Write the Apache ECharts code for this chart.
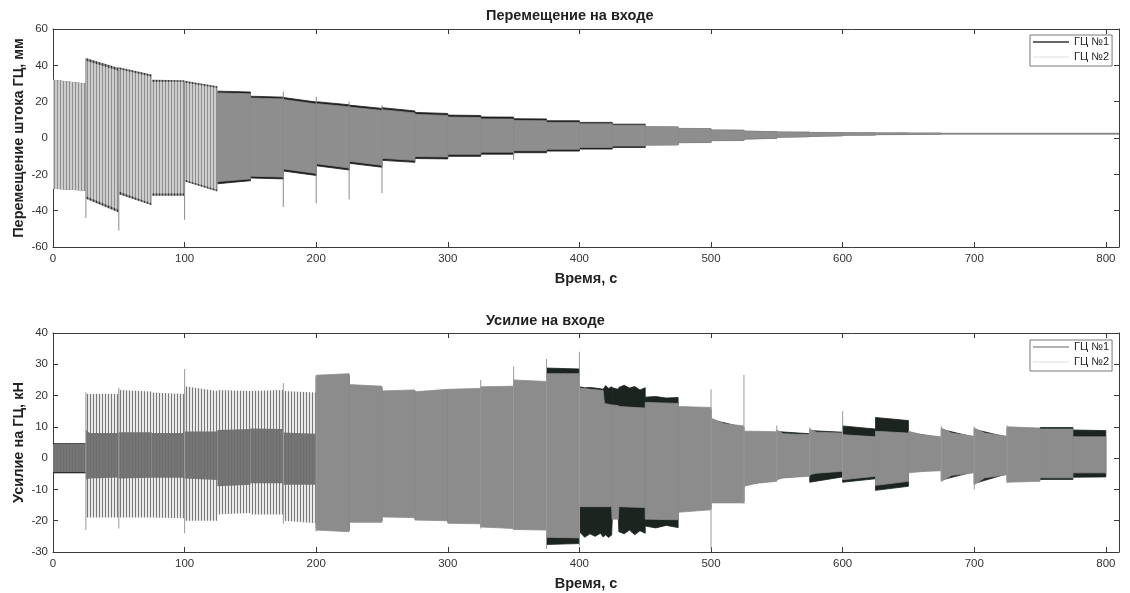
<!DOCTYPE html>
<html>
<head>
<meta charset="utf-8">
<title>Перемещение и усилие на входе</title>
<script src="https://cdn.jsdelivr.net/npm/echarts@6/dist/echarts.min.js"></script>
<style>
  html, body { margin: 0; padding: 0; background: #fff; }
  #chart { width: 1130px; height: 593px; }
</style>
</head>
<body>
<div id="chart"></div>
<script>
// Envelope of each recorded signal, one entry per 25 s loading step.
// Each step is a list of [time s, upper value, lower value].

// Displacement of the cylinder rod, mm
const dispGC1 = [
  [[0, 32, -28], [25, 30, -29]],
  [[25, 44, -33.5], [50, 38.5, -41]],
  [[50, 39, -31], [75, 35, -37]],
  [[75, 32, -31.8], [100, 31.8, -31.8]],
  [[100, 31.5, -24], [125, 28.5, -29.5]],
  [[125, 25.8, -25.2], [150, 25.3, -23.5]],
  [[150, 23, -22], [175, 22.5, -22.5]],
  [[175, 22.3, -18.2], [200, 19.8, -20.6]],
  [[200, 20, -15.3], [225, 18.3, -17.6]],
  [[225, 18.1, -13.9], [250, 16.3, -16.1]],
  [[250, 16.7, -12.3], [275, 14.9, -13.4]],
  [[275, 14.1, -11.3], [300, 13.5, -11.5]],
  [[300, 12.6, -10.1], [325, 12.4, -10.1]],
  [[325, 11.6, -8.9], [350, 11.5, -8.9]],
  [[350, 10.6, -8.1], [375, 10.5, -8.1]],
  [[375, 9.5, -7.2], [400, 9.5, -7.2]],
  [[400, 8.6, -6.1], [425, 8.6, -6.1]],
  [[425, 7.6, -5.2], [450, 7.6, -5.2]],
  [[450, 6.1, -3.8], [475, 6.0, -3.7]],
  [[475, 5.2, -2.5], [500, 5.1, -2.4]],
  [[500, 4.3, -1.4], [525, 4.2, -1.3]],
  [[525, 3.7, -0.5], [550, 3.4, -0.1]],
  [[550, 3.2, 0.5], [575, 3.1, 0.8]],
  [[575, 3.0, 1.0], [600, 2.9, 1.3]],
  [[600, 2.8, 1.6], [625, 2.8, 1.7]],
  [[625, 2.7, 1.9], [650, 2.7, 2.0]],
  [[650, 2.6, 2.1], [675, 2.6, 2.2]],
  [[675, 2.5, 2.3], [810, 2.5, 2.3]]
];
const dispGC2 = [
  [[0, 32, -28], [25, 30, -29]],
  [[25, 42.5, -32], [50, 37, -39.5]],
  [[50, 38, -29.5], [75, 33.7, -36]],
  [[75, 31, -30.5], [100, 31, -30.5]],
  [[100, 30.5, -23], [125, 27.5, -28.5]],
  [[125, 24.8, -24], [150, 24.3, -22.5]],
  [[150, 22, -21], [175, 21.5, -21.5]],
  [[175, 21.2, -17], [200, 18.7, -19.5]],
  [[200, 18.9, -14.2], [225, 17.2, -16.5]],
  [[225, 17, -12.8], [250, 15.2, -15]],
  [[250, 15.6, -11.2], [275, 13.8, -12.3]],
  [[275, 13, -10.2], [300, 12.4, -10.4]],
  [[300, 11.5, -9], [325, 11.3, -9]],
  [[325, 10.5, -7.8], [350, 10.4, -7.8]],
  [[350, 9.6, -7], [375, 9.5, -7]],
  [[375, 8.6, -6.2], [400, 8.6, -6.2]],
  [[400, 7.8, -5.2], [425, 7.8, -5.2]],
  [[425, 7, -4.4], [450, 7, -4.4]],
  [[450, 6.2, -3.9], [475, 6.1, -3.8]],
  [[475, 5.3, -2.6], [500, 5.2, -2.5]],
  [[500, 4.4, -1.5], [525, 4.3, -1.4]],
  [[525, 3.8, -0.6], [550, 3.5, -0.2]],
  [[550, 3.3, 0.4], [575, 3.2, 0.7]],
  [[575, 3.1, 0.9], [600, 3.0, 1.2]],
  [[600, 2.9, 1.5], [625, 2.9, 1.6]],
  [[625, 2.8, 1.8], [650, 2.8, 1.9]],
  [[650, 2.7, 2.0], [675, 2.7, 2.1]],
  [[675, 2.6, 2.2], [810, 2.6, 2.2]]
];
// Transients at step changes: [time s, min, max]
const dispSpikes = [
  [25, -44, 44], [50, -51, 39], [100, -45, 31], [175, -38, 25.5],
  [200, -36, 22.7], [225, -33.8, 20], [250, -30.4, 18], [350, -12, 10.5]
];

// Force on the cylinder, kN
const forceGC1 = [
  [[0, 4.8, -4.8], [25, 4.8, -4.8]],
  [[25, 9, -6.8], [28, 8, -6.5], [50, 8, -6.2]],
  [[50, 8.3, -6.5], [75, 8.3, -6.3]],
  [[75, 8, -6.3], [100, 8, -6.3]],
  [[100, 8.5, -6.5], [125, 8.5, -7]],
  [[125, 9, -9], [150, 9.3, -8.5]],
  [[150, 9.5, -8], [175, 9.3, -8]],
  [[175, 8.2, -8.5], [200, 7.8, -8.5]],
  [[200, 26, -22.5], [225, 26.5, -23]],
  [[225, 23, -20], [250, 22.5, -20]],
  [[250, 21, -18.3], [275, 21.3, -18.5]],
  [[275, 20.7, -19.3], [300, 21.5, -19.5]],
  [[300, 21.5, -20.3], [325, 21.8, -20.5]],
  [[325, 22.3, -21.5], [350, 22.5, -22]],
  [[350, 24.5, -22.3], [375, 24, -22.5]],
  [[375, 28.8, -27.6], [400, 28.5, -27.3]],
  [[400, 22.8, -23.5], [404, 22.5, -25.3], [408, 22.6, -24.2], [412, 22.4, -25], [416, 22.2, -24],
   [418, 22.0, -25.2], [420, 23.2, -24.5], [422, 22.3, -25.4], [424.5, 22.8, -24.6], [425, 22.5, -19]],
  [[425, 22.5, -19], [429.5, 22, -19], [430, 22.6, -23.5], [434, 23.3, -24.2], [438, 22.4, -23],
   [442, 22.9, -24.5], [446, 21.8, -23.2], [450, 22.5, -24]],
  [[450, 19.5, -21.7], [458, 19.7, -22.3], [466, 19.2, -21.5], [475, 19.4, -22.2]],
  [[475, 16, -16.8], [500, 15.7, -16]],
  [[500, 12.3, -13.8], [525, 9.8, -13.8]],
  [[525, 8.1, -8.5], [550, 7.9, -7]],
  [[550, 8.5, -6.4], [575, 7.8, -5.5]],
  [[575, 8.8, -7.7], [600, 8.3, -6.0]],
  [[600, 10.3, -7.7], [625, 9.3, -6.6]],
  [[625, 13, -10.3], [650, 12, -9]],
  [[650, 8.2, -4.3], [675, 6.5, -3.7]],
  [[675, 9.2, -7], [700, 6.7, -4.3]],
  [[700, 9.2, -8.1], [725, 6.7, -5]],
  [[725, 9.6, -7.3], [750, 9.3, -7]],
  [[750, 9.8, -6.8], [775, 9.8, -6.8]],
  [[775, 9, -6.1], [800, 8.8, -6]]
];
const forceGC2 = [
  [[0, 4.5, -4.5], [25, 4.5, -4.5]],
  [[25, 20.5, -19], [50, 20.5, -19]],
  [[50, 21.8, -19], [75, 21.3, -19]],
  [[75, 21, -19], [100, 20.5, -19.2]],
  [[100, 23, -20], [125, 21.5, -20]],
  [[125, 21.8, -18], [150, 21.5, -17.5]],
  [[150, 21.5, -18], [175, 21.8, -18]],
  [[175, 21.5, -20], [200, 21, -20.8]],
  [[200, 26.5, -23], [225, 27, -23.5]],
  [[225, 23.5, -20.5], [250, 23, -20.5]],
  [[250, 21.5, -18.8], [275, 21.8, -19]],
  [[275, 21.2, -19.8], [300, 22, -20]],
  [[300, 22, -20.8], [325, 22.3, -21]],
  [[325, 22.8, -22], [350, 23, -22.5]],
  [[350, 25, -22.8], [375, 24.5, -23]],
  [[375, 27, -25.3], [400, 27, -25.5]],
  [[400, 22.4, -15.5], [418, 21.6, -15.5], [419, 17.5, -15.5], [424.5, 17, -15.5], [425, 17, -19.5]],
  [[425, 17, -19.5], [429.5, 16.8, -19.5], [430, 16.5, -15.5], [450, 16, -15.8]],
  [[450, 17.8, -19.5], [475, 17.5, -19.7]],
  [[475, 16.5, -17.3], [500, 16.2, -16.5]],
  [[500, 12.8, -14.3], [510, 11, -14.3], [525, 10.3, -14.3]],
  [[525, 8.6, -9], [535, 8.6, -8], [550, 8.4, -7.4]],
  [[550, 9, -6.9], [555, 7.8, -6.3], [575, 7.5, -5.8]],
  [[575, 9.3, -5.3], [580, 8.3, -4.8], [600, 8, -4.2]],
  [[600, 7.5, -6.9], [625, 6.8, -5.8]],
  [[625, 8.6, -8.7], [650, 8, -7.4]],
  [[650, 8.6, -4.7], [660, 7.5, -4.3], [675, 6.8, -4]],
  [[675, 9.6, -7.4], [683, 8, -5.5], [700, 7, -4.7]],
  [[700, 9.6, -8.5], [708, 8, -6.3], [725, 7, -5.3]],
  [[725, 10, -7.7], [750, 9.6, -7.4]],
  [[750, 9.3, -6.3], [775, 9.3, -6.3]],
  [[775, 6.8, -4.7], [800, 6.8, -4.7]]
];
const forceSpikes = [
  [25, -23, 21], [50, -22.5, 22.5], [100, -24, 28.5], [175, -21, 24], [200, -23.5, 26.5],
  [325, -22.5, 25], [350, -23, 29.3], [375, -29, 31.7], [400, -28, 34], [500, -29, 22],
  [525, -14.5, 26.6], [550, -7, 10.5], [575, -5.5, 9.8], [600, -7, 15], [675, -7.5, 10.2],
  [700, -10, 10], [725, -8, 10.5]
];

// Early steps were recorded with few cycles per step; their traces read as separate strokes.
const dispSparseUntil = 125;
const forceSparseUntil = 200;

const xTicks = [0, 100, 200, 300, 400, 500, 600, 700, 800];

// ---------- drawing ----------
const FONT = 'Liberation Sans, Arial, sans-serif';

function stripes(bg, fg, period, w) {
  const c = document.createElement('canvas');
  c.width = period; c.height = 4;
  const g = c.getContext('2d');
  g.clearRect(0, 0, period, 4);
  g.fillStyle = bg; g.fillRect(0, 0, period, 4);
  g.fillStyle = fg; g.fillRect(0, 0, w, 4);
  return { image: c, repeat: 'repeat' };
}

const styles = {
  disp: {
    gc1: { dense: { fill: '#202020', stroke: '#202020', lineWidth: 0.8 },
           sparse: { fill: stripes('#8a8a8a', '#333333', 3, 1) } },
    gc2: { dense: { fill: '#8e8e8e', stroke: '#8e8e8e', lineWidth: 0.8 },
           sparse: { fill: stripes('#cdcdcd', '#8e8e8e', 3, 1) } }
  },
  force: {
    gc1: { dense: { fill: '#1c2420', stroke: '#1c2420', lineWidth: 0.8 },
           sparse: { fill: '#151515' } },
    gc2: { dense: { fill: '#8c8c8c', stroke: '#8c8c8c', lineWidth: 0.8 },
           sparse: { fill: stripes('rgba(214,214,214,0.5)', 'rgba(110,110,110,0.9)', 3, 1) } }
  }
};

function envelopeSeries(name, segs, axisIdx, look, sparseUntil, color) {
  return {
    type: 'custom',
    name: name,
    xAxisIndex: axisIdx, yAxisIndex: axisIdx,
    itemStyle: { color: color },
    clip: true,
    silent: true,
    animation: false,
    data: segs.map(s => {
      const his = s.map(p => p[1]), los = s.map(p => p[2]);
      return [s[0][0], s[s.length - 1][0], Math.max(...his), Math.min(...los)];
    }),
    encode: { x: [0, 1], y: [2, 3] },
    renderItem: function (params, api) {
      const s = segs[params.dataIndex];
      const upper = s.map(p => api.coord([p[0], p[1]]));
      const lower = s.slice().reverse().map(p => api.coord([p[0], p[2]]));
      const st = s[0][0] < sparseUntil ? look.sparse : look.dense;
      return { type: 'polygon', shape: { points: upper.concat(lower) }, style: Object.assign({}, st) };
    }
  };
}

function spikeSeries(spikes, axisIdx, color) {
  return {
    type: 'custom',
    xAxisIndex: axisIdx, yAxisIndex: axisIdx,
    clip: true, silent: true, animation: false,
    data: spikes,
    encode: { x: 0, y: [1, 2] },
    renderItem: function (params, api) {
      const a = api.coord([api.value(0), api.value(1)]);
      const b = api.coord([api.value(0), api.value(2)]);
      return { type: 'line', shape: { x1: a[0], y1: a[1], x2: b[0], y2: b[1] },
               style: { stroke: color, lineWidth: 1 } };
    }
  };
}

const NAME_STYLE = { color: '#222', fontSize: 14.5, fontWeight: 'bold', fontFamily: FONT };

function xAxes(gridIndex, withName) {
  const common = {
    gridIndex: gridIndex, type: 'value', min: 0, max: 810, interval: 100,
    axisLine: { show: true, onZero: false, lineStyle: { color: '#3a3a3a', width: 1 } },
    axisTick: { show: true, inside: true, length: 5, lineStyle: { color: '#3a3a3a' } },
    splitLine: { show: false }
  };
  return [
    Object.assign({}, common, {
      position: 'bottom',
      axisLabel: { color: '#333', fontSize: 11.5, fontFamily: FONT, margin: 6,
                   formatter: v => (xTicks.indexOf(v) >= 0 ? String(v) : '') },
      name: withName, nameLocation: 'middle', nameGap: 24, nameMoveOverlap: false,
      nameTextStyle: NAME_STYLE
    }),
    Object.assign({}, common, { position: 'top', axisLabel: { show: false } })
  ];
}

function yAxes(gridIndex, min, max, interval, name) {
  const common = {
    gridIndex: gridIndex, type: 'value', min: min, max: max, interval: interval,
    axisLine: { show: true, onZero: false, lineStyle: { color: '#3a3a3a', width: 1 } },
    axisTick: { show: true, inside: true, length: 5, lineStyle: { color: '#3a3a3a' } },
    splitLine: { show: false }
  };
  return [
    Object.assign({}, common, {
      position: 'left',
      axisLabel: { color: '#333', fontSize: 11.5, fontFamily: FONT, margin: 5 },
      name: name, nameLocation: 'middle', nameGap: 27, nameRotate: 90, nameMoveOverlap: false,
      nameTextStyle: NAME_STYLE
    }),
    Object.assign({}, common, { position: 'right', axisLabel: { show: false } })
  ];
}

function legendAt(top, gc1Color) {
  return {
    orient: 'vertical', left: 1030, top: top, align: 'left',
    padding: [1, 3, 3, 3], itemGap: 3, itemWidth: 36, itemHeight: 1.4,
    backgroundColor: '#fff', borderColor: '#555', borderWidth: 0.8, borderRadius: 0,
    selectedMode: false,
    textStyle: { fontSize: 11, fontFamily: FONT, color: '#222', lineHeight: 12 },
    data: [
      { name: 'ГЦ №1', icon: 'rect', itemStyle: { color: gc1Color } },
      { name: 'ГЦ №2', icon: 'rect', itemStyle: { color: '#e8e8e8' } }
    ]
  };
}

const chart = echarts.init(document.getElementById('chart'), null, { renderer: 'canvas' });

chart.setOption({
  animation: false,
  backgroundColor: '#fff',
  textStyle: { fontFamily: FONT },
  grid: [
    { left: 53, right: 11, top: 29, height: 218, outerBoundsMode: 'none' },
    { left: 53, right: 11, top: 333, height: 219, outerBoundsMode: 'none' }
  ],
  xAxis: xAxes(0, 'Время, с').concat(xAxes(1, 'Время, с')),
  yAxis: yAxes(0, -60, 60, 20, 'Перемещение штока ГЦ, мм')
    .concat(yAxes(1, -30, 40, 10, 'Усилие на ГЦ, кН')),
  legend: [legendAt(35, '#333'), legendAt(340, '#999')],
  graphic: [
    { type: 'text', left: 586 - 100, top: 8,
      style: { text: 'Перемещение на входе', x: 0, y: 0, fill: '#222',
               font: 'bold 14.5px ' + FONT, width: 200, align: 'center' } },
    { type: 'text', left: 586 - 100, top: 313,
      style: { text: 'Усилие на входе', x: 0, y: 0, fill: '#222',
               font: 'bold 14.5px ' + FONT, width: 200, align: 'center' } }
  ],
  series: [
    envelopeSeries('ГЦ №1', dispGC1, 0, styles.disp.gc1, dispSparseUntil, '#333'),
    envelopeSeries('ГЦ №2', dispGC2, 0, styles.disp.gc2, dispSparseUntil, '#e8e8e8'),
    spikeSeries(dispSpikes, 0, '#8a8a8a'),
    envelopeSeries('ГЦ №1', forceGC1, 2, styles.force.gc1, forceSparseUntil, '#999'),
    envelopeSeries('ГЦ №2', forceGC2, 2, styles.force.gc2, forceSparseUntil, '#e8e8e8'),
    spikeSeries(forceSpikes, 2, '#9a9a9a')
  ]
});
</script>
</body>
</html>
